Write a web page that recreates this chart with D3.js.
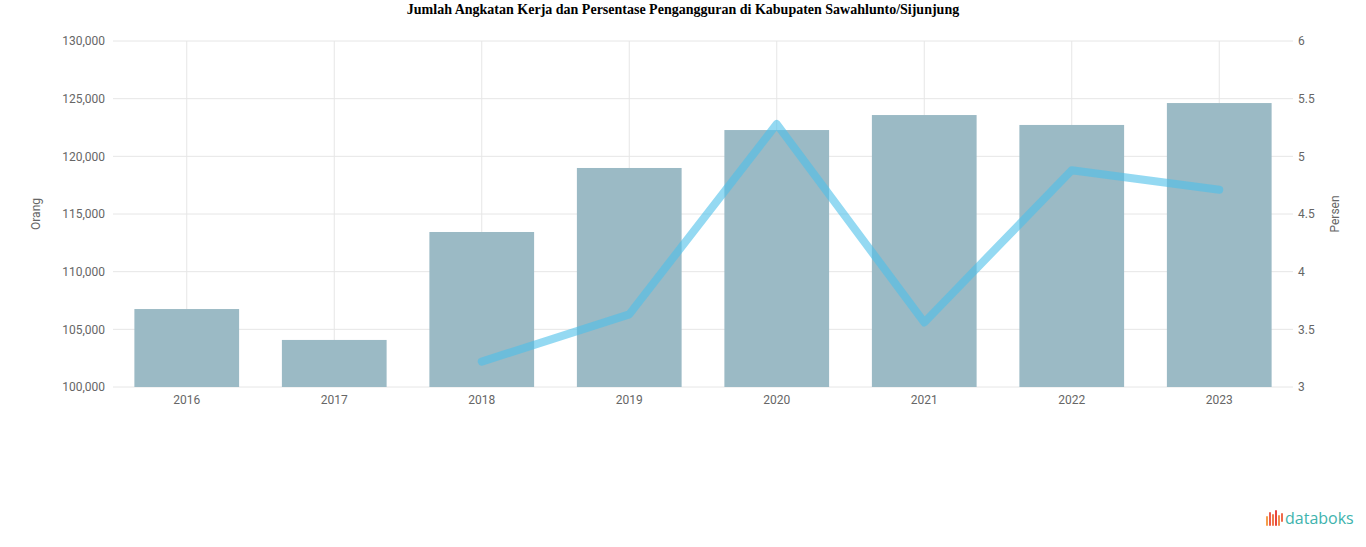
<!DOCTYPE html>
<html>
<head>
<meta charset="utf-8">
<script src="https://cdn.jsdelivr.net/npm/d3@7"></script>
<style>
  html, body { margin: 0; padding: 0; background: #fff; }
  svg { display: block; }
</style>
</head>
<body>
<svg id="chart" width="1366" height="547"></svg>
<script>
const years = ["2016", "2017", "2018", "2019", "2020", "2021", "2022", "2023"];
const angkatanKerja = [106760, 104080, 113440, 118990, 122280, 123580, 122720, 124620];
const pengangguran = [null, null, 3.22, 3.63, 5.28, 3.56, 4.88, 4.71];
const leftTicks = [100000, 105000, 110000, 115000, 120000, 125000, 130000];
const rightTicks = [3, 3.5, 4, 4.5, 5, 5.5, 6];
const titleText = "Jumlah Angkatan Kerja dan Persentase Pengangguran di Kabupaten Sawahlunto/Sijunjung";

const svg = d3.select("#chart");
const W = 1366, H = 547;
const m = { left: 113, right: 1293, top: 41, bottom: 387 };

svg.append("text")
  .attr("x", W / 2).attr("y", 14)
  .attr("text-anchor", "middle")
  .attr("font-family", "'Liberation Serif', 'Times New Roman', serif")
  .attr("font-weight", "bold")
  .attr("font-size", 14)
  .attr("fill", "#000")
  .text(titleText);

const x = d3.scaleBand().domain(years).range([m.left, m.right]).paddingInner(0.29).paddingOuter(0.145);
const yL = d3.scaleLinear().domain([100000, 130000]).range([m.bottom, m.top]);
const yR = d3.scaleLinear().domain([3, 6]).range([m.bottom, m.top]);

const grid = svg.append("g");
grid.selectAll("line.h").data(leftTicks).join("line")
  .attr("x1", m.left).attr("x2", m.right)
  .attr("y1", d => yL(d)).attr("y2", d => yL(d))
  .attr("stroke", "#e6e6e6").attr("stroke-width", 1);
grid.selectAll("line.v").data(years).join("line")
  .attr("x1", d => x(d) + x.bandwidth() / 2).attr("x2", d => x(d) + x.bandwidth() / 2)
  .attr("y1", m.top).attr("y2", m.bottom)
  .attr("stroke", "#e6e6e6").attr("stroke-width", 1);

svg.append("g").selectAll("rect").data(years).join("rect")
  .attr("x", d => x(d))
  .attr("width", x.bandwidth())
  .attr("y", (d, i) => yL(angkatanKerja[i]))
  .attr("height", (d, i) => yL(100000) - yL(angkatanKerja[i]))
  .attr("fill", "#9bbac5");

const line = d3.line()
  .defined(d => d.v != null)
  .x(d => x(d.y) + x.bandwidth() / 2)
  .y(d => yR(d.v));
svg.append("path")
  .datum(years.map((y, i) => ({ y, v: pengangguran[i] })))
  .attr("d", line)
  .attr("fill", "none")
  .attr("stroke", "#4cc0ea")
  .attr("stroke-opacity", 0.6)
  .attr("stroke-width", 8)
  .attr("stroke-linejoin", "round")
  .attr("stroke-linecap", "round");

const fmt = d3.format(",");
const axL = d3.axisLeft(yL).tickValues(leftTicks).tickFormat(fmt).tickSize(0).tickPadding(6);
const gL = svg.append("g").attr("transform", `translate(${m.left - 2},0)`).call(axL);
const axR = d3.axisRight(yR).tickValues(rightTicks).tickFormat(d3.format("~g")).tickSize(0).tickPadding(6);
const gR = svg.append("g").attr("transform", `translate(${m.right - 1},0)`).call(axR);
const axB = d3.axisBottom(x).tickSize(0).tickPadding(8);
const gB = svg.append("g").attr("transform", `translate(0,${m.bottom})`).call(axB);
[gL, gR, gB].forEach(g => {
  g.select(".domain").remove();
  g.selectAll("text").attr("font-family", "Roboto, 'Open Sans', sans-serif").attr("font-size", 12).attr("fill", "#666");
});

svg.append("text")
  .attr("transform", `translate(40,${(m.top + m.bottom) / 2}) rotate(-90)`)
  .attr("text-anchor", "middle")
  .attr("font-family", "Roboto, sans-serif").attr("font-size", 12).attr("fill", "#666")
  .text("Orang");
svg.append("text")
  .attr("transform", `translate(1339,${(m.top + m.bottom) / 2}) rotate(-90)`)
  .attr("text-anchor", "middle")
  .attr("font-family", "Roboto, sans-serif").attr("font-size", 12).attr("fill", "#666")
  .text("Persen");

// databoks logo
const logo = svg.append("g").attr("transform", "translate(1266,510)");
const barsLogo = [[0, 6, 10], [3, 2, 14], [6, 4, 12], [9, 0, 16], [12, 5, 11], [15, 3, 9]];
const logoColors = ["#f4a04c", "#ef5b4c", "#f07a4b", "#e8463f", "#f38e4d", "#ef6a4a"];
logo.selectAll("rect").data(barsLogo).join("rect")
  .attr("x", d => d[0]).attr("y", d => d[1]).attr("width", 2).attr("height", d => d[2])
  .attr("rx", 1).attr("fill", (d, i) => logoColors[i]);
logo.append("text").attr("x", 19).attr("y", 14)
  .attr("font-family", "'Open Sans', Roboto, sans-serif").attr("font-size", 16)
  .attr("fill", "#3eb3ad").text("databoks");
</script>
</body>
</html>
